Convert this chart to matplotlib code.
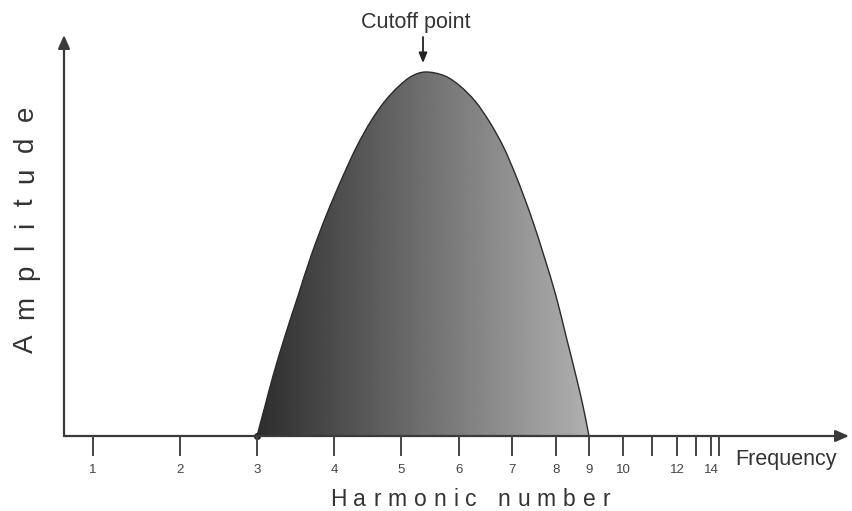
import numpy as np
import matplotlib
matplotlib.use("Agg")
import matplotlib.pyplot as plt
from matplotlib.path import Path
from matplotlib.patches import PathPatch, FancyArrowPatch

plt.rcParams["font.family"] = ["Liberation Sans", "DejaVu Sans"]

# Harmonics and where they sit along the (compressed) frequency axis
harmonics = [1, 2, 3, 4, 5, 6, 7, 8, 9, 10, 11, 12, 13, 14, 15]
harmonic_freq = [29, 116, 193, 270, 337, 395, 448, 492, 525, 559, 588, 613, 632, 647, 655]
labeled_harmonics = [1, 2, 3, 4, 5, 6, 7, 8, 9, 10, 12, 14]

# Spectral envelope (frequency, amplitude)
env_freq = [193, 201, 209, 221, 234, 247, 262, 279, 293, 307, 321, 335, 348, 361,
            381, 396, 411, 425, 439, 452, 467, 480, 492, 502, 512, 519, 525]
env_amp = [0, 30, 60, 100, 140, 180, 220, 260, 290, 315, 335, 350, 360, 364,
           360, 350, 335, 315, 290, 260, 220, 180, 140, 100, 60, 30, 0]

cutoff_freq = 359
cutoff_label = "Cutoff point"

AX_COL = "#3a3a3a"

fig = plt.figure(figsize=(8.53, 5.11), dpi=100)
ax = fig.add_axes([0, 0, 1, 1])
ax.set_xlim(-64, 789)
ax.set_ylim(-75, 436)
ax.axis("off")


def smooth_path(xs, ys, alpha=0.5):
    """Centripetal Catmull-Rom spline through the points, as cubic Bezier segments."""
    pts = np.column_stack([xs, ys]).astype(float)
    n = len(pts)
    ext = np.vstack([2 * pts[0] - pts[1], pts, 2 * pts[-1] - pts[-2]])
    verts = [pts[0]]
    codes = [Path.MOVETO]
    for i in range(1, n):
        p0, p1, p2, p3 = ext[i - 1], ext[i], ext[i + 1], ext[i + 2]
        d1 = np.linalg.norm(p1 - p0) ** alpha
        d2 = np.linalg.norm(p2 - p1) ** alpha
        d3 = np.linalg.norm(p3 - p2) ** alpha
        m1 = (p2 - p1) + d2 * ((p1 - p0) / d1 - (p2 - p0) / (d1 + d2))
        m2 = (p2 - p1) + d2 * ((p3 - p2) / d3 - (p3 - p1) / (d2 + d3))
        verts += [p1 + m1 / 3.0, p2 - m2 / 3.0, p2]
        codes += [Path.CURVE4] * 3
    return verts, codes


verts, codes = smooth_path(env_freq, env_amp)
fill_path = Path(verts + [verts[0]], codes + [Path.CLOSEPOLY])

# horizontal grey gradient clipped to the envelope
grad = np.linspace(0.0, 1.0, 256).reshape(1, -1)
c0, c1 = 0.18, 0.69
img = ax.imshow(c0 + (c1 - c0) * grad, cmap="gray", vmin=0, vmax=1,
                extent=[env_freq[0], env_freq[-1], 0, max(env_amp) + 6],
                aspect="auto", origin="lower", zorder=2, interpolation="bilinear")
clip = PathPatch(fill_path, facecolor="none", edgecolor="none", transform=ax.transData)
ax.add_patch(clip)
img.set_clip_path(clip)

outline = PathPatch(Path(verts, codes), facecolor="none", edgecolor="#2a2a2a",
                    lw=1.0, zorder=3)
ax.add_patch(outline)
ax.plot([env_freq[0]], [env_amp[0]], "o", color="#222222", ms=4, zorder=4)

# axes with arrowheads
for end in [(785, 0), (0, 401)]:
    ax.add_patch(FancyArrowPatch((0, 0), end,
                                 arrowstyle="-|>,head_length=8,head_width=3.5",
                                 color=AX_COL, lw=1.6, zorder=5, shrinkA=0, shrinkB=0,
                                 mutation_scale=1))

# harmonic ticks and labels
for h, f in zip(harmonics, harmonic_freq):
    ax.plot([f, f], [0, -20], color="#444444", lw=1.4, zorder=5, solid_capstyle="butt")
    if h in labeled_harmonics:
        ax.text(f, -34, str(h), ha="center", va="center", fontsize=9.5, color="#444444")

ax.text(671, -23, "Frequency", ha="left", va="center", fontsize=15.5, color="#333333")

# cutoff marker
ax.annotate("", xy=(cutoff_freq, 373), xytext=(cutoff_freq, 399),
            arrowprops=dict(arrowstyle="-|>,head_length=0.6,head_width=0.25",
                            color="#222222", lw=1.3, shrinkA=0, shrinkB=0))
ax.text(cutoff_freq - 7, 414, cutoff_label, ha="center", va="center",
        fontsize=15.5, color="#333333")


def tracked_text(x0, y0, s, tracking, vertical=False, **kw):
    r = fig.canvas.get_renderer()
    probe = ax.text(0, 0, "|", **kw)
    bar_w = probe.get_window_extent(r).width
    probe.remove()
    for i, ch in enumerate(s):
        if ch == " ":
            continue
        t = ax.text(0, 0, s[:i] + "|", **kw)
        adv = t.get_window_extent(r).width - bar_w
        t.remove()
        off = adv + i * tracking
        if vertical:
            ax.text(x0, y0 + off, ch, rotation=90, rotation_mode="anchor",
                    ha="left", va="baseline", **kw)
        else:
            ax.text(x0 + off, y0, ch, ha="left", va="baseline", **kw)


tracked_text(266, -70, "Harmonic number", 7.0, fontsize=16.5, color="#333333")
tracked_text(-31, 83, "Amplitude", 15.5, vertical=True, fontsize=20, color="#333333")

fig.savefig("out.png", dpi=100, facecolor="white")
